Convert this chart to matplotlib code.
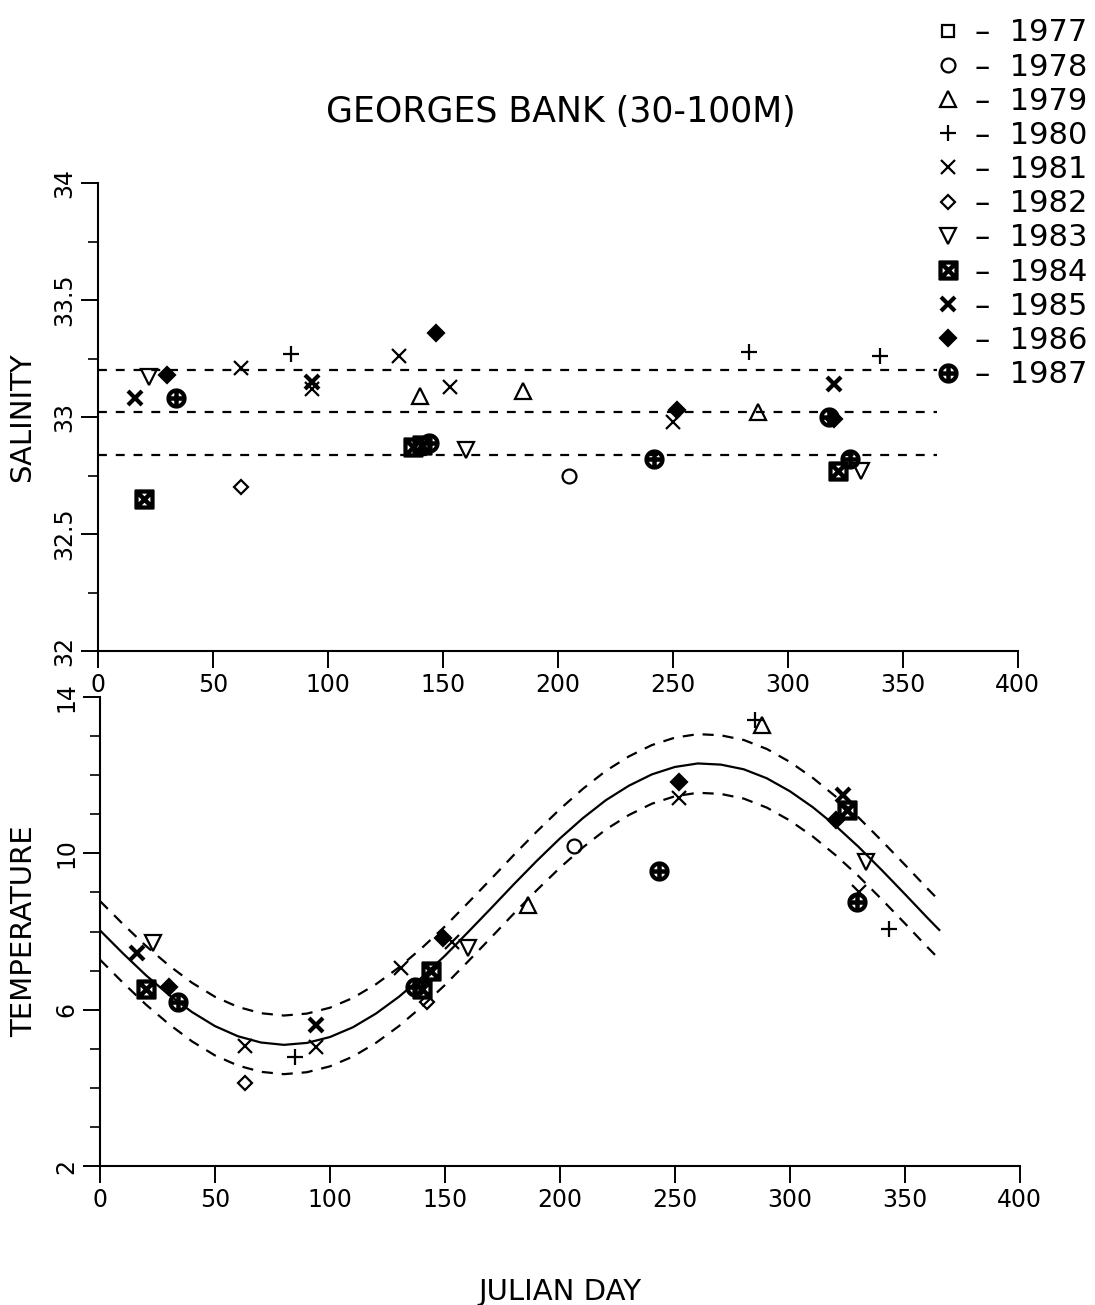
import matplotlib
matplotlib.use("Agg")
import matplotlib.pyplot as plt
from matplotlib.lines import Line2D

# ---- data ----
years = ["1977", "1978", "1979", "1980", "1981", "1982", "1983", "1984", "1985", "1986", "1987"]

# salinity observations (julian day, salinity) per year
sal_day = {
    "1977": [],
    "1978": [205],
    "1979": [140, 185, 287],
    "1980": [84, 283, 340],
    "1981": [62, 93, 131, 153, 250],
    "1982": [62],
    "1983": [22, 160, 332],
    "1984": [20, 137, 141, 322],
    "1985": [16, 93, 320],
    "1986": [30, 147, 252, 320],
    "1987": [34, 144, 242, 318, 327],
}
sal_val = {
    "1977": [],
    "1978": [32.75],
    "1979": [33.09, 33.11, 33.02],
    "1980": [33.27, 33.28, 33.26],
    "1981": [33.21, 33.12, 33.26, 33.13, 32.98],
    "1982": [32.70],
    "1983": [33.17, 32.86, 32.77],
    "1984": [32.65, 32.87, 32.88, 32.77],
    "1985": [33.08, 33.15, 33.14],
    "1986": [33.18, 33.36, 33.03, 32.99],
    "1987": [33.08, 32.89, 32.82, 33.00, 32.82],
}

# temperature observations (julian day, temperature) per year
temp_day = {
    "1977": [],
    "1978": [206],
    "1979": [186, 288],
    "1980": [85, 285, 343],
    "1981": [63, 94, 131, 153, 252, 330],
    "1982": [63, 142],
    "1983": [23, 160, 333],
    "1984": [20, 140, 144, 325],
    "1985": [16, 94, 323],
    "1986": [30, 149, 252, 320],
    "1987": [34, 137, 243, 329],
}
temp_val = {
    "1977": [],
    "1978": [10.2],
    "1979": [8.68, 13.28],
    "1980": [4.79, 13.4, 8.06],
    "1981": [5.07, 5.05, 7.06, 7.72, 11.41, 9.0],
    "1982": [4.12, 6.2],
    "1983": [7.70, 7.57, 9.78],
    "1984": [6.53, 6.52, 7.0, 11.1],
    "1985": [7.45, 5.61, 11.49],
    "1986": [6.58, 7.83, 11.82, 10.85],
    "1987": [6.19, 6.58, 9.54, 8.75],
}

# salinity mean line and band
sal_mean = 33.02
sal_band = 0.18
sal_line_days = [0, 365]

# annual temperature fit (read at 10-day steps) and band
fit_day = [0, 10, 20, 30, 40, 50, 60, 70, 80, 90, 100, 110, 120, 130, 140, 150, 160, 170, 180,
           190, 200, 210, 220, 230, 240, 250, 260, 270, 280, 290, 300, 310, 320, 330, 340, 350,
           360, 365]
fit_temp = [8.03, 7.44, 6.88, 6.38, 5.94, 5.58, 5.32, 5.16, 5.10, 5.15, 5.30, 5.55, 5.90, 6.33,
            6.83, 7.38, 7.98, 8.59, 9.21, 9.81, 10.38, 10.90, 11.36, 11.73, 12.02, 12.21, 12.30,
            12.27, 12.15, 11.92, 11.59, 11.18, 10.70, 10.16, 9.57, 8.96, 8.34, 8.04]
temp_band = 0.75

# ---- marker styles per year ----
styles = {
    "1977": dict(marker="s", mfc="none", ms=9),
    "1978": dict(marker="o", mfc="none", ms=10),
    "1979": dict(marker="^", mfc="none", ms=11),
    "1980": dict(marker="+", ms=11),
    "1981": dict(marker="x", ms=10),
    "1982": dict(marker="D", mfc="none", ms=7),
    "1983": dict(marker="v", mfc="none", ms=11),
    "1984": dict(marker=r"$\boxtimes$", ms=13),
    "1985": dict(marker="x", ms=10, mew=3.0),
    "1986": dict(marker="D", mfc="black", ms=8),
    "1987": dict(marker=r"$\oplus$", ms=13),
}

fig = plt.figure(figsize=(10.95, 13.05), dpi=100)
ax1 = fig.add_axes([0.0895, 0.5011, 0.840, 0.3586])
ax2 = fig.add_axes([0.0913, 0.1065, 0.840, 0.3594])

def base_style(mark):
    kw = dict(linestyle="none", color="black", mec="black", mew=1.6)
    kw.update(mark)
    return kw

for yr in years:
    ax1.plot(sal_day[yr], sal_val[yr], **base_style(styles[yr]))
    ax2.plot(temp_day[yr], temp_val[yr], **base_style(styles[yr]))

# salinity mean +/- band
for lvl in (sal_mean - sal_band, sal_mean, sal_mean + sal_band):
    ax1.plot(sal_line_days, [lvl, lvl], color="black", lw=1.6, linestyle=(0, (4, 4)))

# temperature fit
ax2.plot(fit_day, fit_temp, color="black", lw=1.6)
ax2.plot(fit_day, [t + temp_band for t in fit_temp], color="black", lw=1.6, linestyle=(0, (5, 4)))
ax2.plot(fit_day, [t - temp_band for t in fit_temp], color="black", lw=1.6, linestyle=(0, (5, 4)))

for ax in (ax1, ax2):
    ax.set_xlim(0, 400)
    ax.set_xticks(range(0, 401, 50))
    for s in ("top", "right"):
        ax.spines[s].set_visible(False)
    for s in ("left", "bottom"):
        ax.spines[s].set_linewidth(1.5)
    ax.tick_params(axis="both", which="major", length=12, width=1.4, labelsize=17, direction="out")
    ax.tick_params(axis="y", which="minor", length=7, width=1.2, direction="out")
    ax.tick_params(axis="y", labelrotation=90)

ax1.set_ylim(32, 34)
ax1.set_yticks([32, 32.5, 33, 33.5, 34])
ax1.set_yticklabels(["32", "32.5", "33", "33.5", "34"])
ax1.set_yticks([32.25, 32.75, 33.25, 33.75], minor=True)
ax1.set_ylabel("SALINITY", fontsize=21, labelpad=12)

ax2.set_ylim(2, 14)
ax2.set_yticks([2, 6, 10, 14])
ax2.set_yticks([3, 4, 5, 7, 8, 9, 11, 12, 13], minor=True)
ax2.set_ylabel("TEMPERATURE", fontsize=21, labelpad=12)
ax2.set_xlabel("JULIAN DAY", fontsize=21, labelpad=48)

for ax in (ax1, ax2):
    for lab in ax.get_yticklabels():
        lab.set_va("center")

fig.text(0.512, 0.914, "GEORGES BANK (30-100M)", ha="center", va="center", fontsize=25)

handles = [Line2D([], [], **base_style(styles[yr])) for yr in years]
labels = ["\u2013  " + yr for yr in years]
fig.legend(handles, labels, loc="upper right", bbox_to_anchor=(1.01, 1.0), frameon=False,
           fontsize=22, handlelength=0.6, handletextpad=0.6, labelspacing=0.17, borderaxespad=0.2)

fig.savefig("out.png", dpi=100)
